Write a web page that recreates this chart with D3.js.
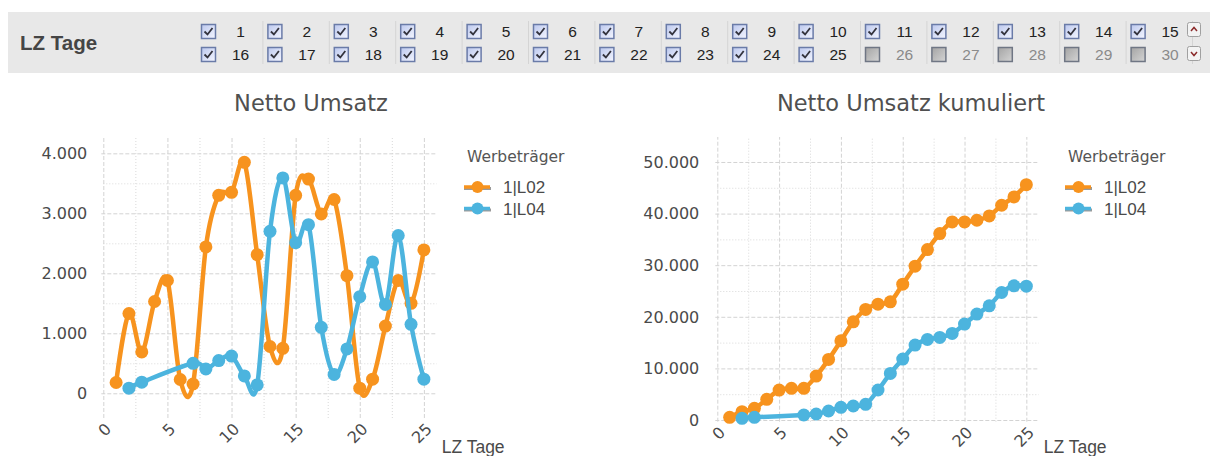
<!DOCTYPE html>
<html>
<head>
<meta charset="utf-8">
<script src="https://d3js.org/d3.v7.min.js"></script>
<style>
  body { margin: 0; background: #fff; }
  svg text { font-family: "DejaVu Sans", sans-serif; }
</style>
</head>
<body>
<div id="chart"></div>
<script>
// day filter (LZ Tage) - first 25 are checked
var filterDays = d3.range(1, 31);
var checkedDays = 25;

// chart data
var days = [1, 2, 3, 4, 5, 6, 7, 8, 9, 10, 11, 12, 13, 14, 15, 16, 17, 18, 19, 20, 21, 22, 23, 24, 25];
var umsatzL02 = [180, 1330, 690, 1530, 1880, 230, 155, 2440, 3300, 3350, 3850, 2310, 780, 750, 3300, 3570, 2990, 3230, 1960, 85, 235, 1120, 1880, 1500, 2390];
var umsatzL04 = [null, 85, 185, null, null, null, 500, 405, 545, 620, 290, 140, 2700, 3590, 2510, 2810, 1100, 315, 740, 1610, 2190, 1480, 2630, 1150, 235];
var kumL02 = [520, 1610, 2260, 4000, 5800, 6130, 6130, 8520, 11740, 15350, 19030, 21420, 22450, 22900, 26320, 29800, 33030, 36130, 38390, 38390, 38710, 39550, 41610, 43230, 45610];
var kumL04 = [null, 320, 520, null, null, null, 970, 1160, 1740, 2450, 2710, 3030, 5810, 9030, 11810, 14520, 15610, 16000, 16770, 18580, 20520, 22130, 24710, 26000, 25940];

var seriesNames = ['1|L02', '1|L04'];
var colors = ['#f7931e', '#4cb4de'];

var xTicks = [0, 5, 10, 15, 20, 25];
var xMinor = [2.5, 7.5, 12.5, 17.5, 22.5];
var yTicksLeft = [0, 1000, 2000, 3000, 4000];
var yMinorLeft = [500, 1500, 2500, 3500];
var yTicksRight = [0, 10000, 20000, 30000, 40000, 50000];
var yMinorRight = [5000, 15000, 25000, 35000, 45000];

var de = d3.formatLocale({decimal: ',', thousands: '.', grouping: [3], currency: ['', '€']});
var fmt = de.format(',.0f');

var svg = d3.select('#chart').append('svg')
  .attr('width', 1210)
  .attr('height', 456);

// ---- filter bar on top ----
svg.append('rect')
  .attr('x', 8).attr('y', 12)
  .attr('width', 1202).attr('height', 61)
  .style('fill', '#e8e8e8');

svg.append('text')
  .attr('x', 20).attr('y', 50)
  .style('font-family', '"Liberation Sans", Arial, sans-serif')
  .style('font-weight', 'bold')
  .style('font-size', '20.5px')
  .style('fill', '#454545')
  .text('LZ Tage');

var grad = svg.append('defs');
var g1 = grad.append('linearGradient').attr('id', 'chk').attr('x1', 0).attr('y1', 0).attr('x2', 1).attr('y2', 1);
g1.append('stop').attr('offset', '0%').attr('stop-color', '#bcc8ee');
g1.append('stop').attr('offset', '100%').attr('stop-color', '#f4f6ff');
var g2 = grad.append('linearGradient').attr('id', 'unchk').attr('x1', 0).attr('y1', 0).attr('x2', 1).attr('y2', 1);
g2.append('stop').attr('offset', '0%').attr('stop-color', '#a4a4a4');
g2.append('stop').attr('offset', '100%').attr('stop-color', '#d4d4d4');

var boxes = svg.selectAll('g.box')
  .data(filterDays)
  .enter().append('g')
  .attr('class', 'box')
  .attr('transform', function(d, i) {
    var col = i % 15, row = Math.floor(i / 15);
    return 'translate(' + (201 + col * 66.4) + ',' + (24 + row * 23) + ')';
  });

boxes.append('rect')
  .attr('x', 0.5).attr('y', 0.5)
  .attr('width', 14).attr('height', 14)
  .style('fill', function(d) { return d <= checkedDays ? 'url(#chk)' : 'url(#unchk)'; })
  .style('stroke', function(d) { return d <= checkedDays ? '#6a7ba8' : '#6f7684'; })
  .style('stroke-width', 1.5);

boxes.filter(function(d) { return d <= checkedDays; })
  .append('path')
  .attr('d', 'M3.5,7.5 L6.5,10.5 L11.5,4')
  .style('fill', 'none')
  .style('stroke', '#33333d')
  .style('stroke-width', 1.8);

boxes.append('text')
  .attr('x', 39.5).attr('y', 12.5)
  .attr('text-anchor', 'middle')
  .style('font-family', '"Liberation Sans", Arial, sans-serif')
  .style('font-size', '15.5px')
  .style('fill', function(d) { return d <= checkedDays ? '#222' : '#8a8a8a'; })
  .text(function(d) { return d; });

// faint separators between the columns
svg.selectAll('line.sep')
  .data(d3.range(1, 16))
  .enter().append('line')
  .attr('x1', function(d) { return 196.5 + d * 66.4; })
  .attr('x2', function(d) { return 196.5 + d * 66.4; })
  .attr('y1', 21).attr('y2', 64)
  .style('stroke', '#d4d4d4');

// scroll buttons
var scroll = svg.selectAll('g.scroll')
  .data(['up', 'down'])
  .enter().append('g')
  .attr('transform', function(d, i) { return 'translate(1187,' + (22 + i * 24) + ')'; });
scroll.append('rect')
  .attr('x', 0.5).attr('y', 0.5)
  .attr('width', 13).attr('height', 14)
  .attr('rx', 2)
  .style('fill', '#f3f3f3')
  .style('stroke', '#a0a0a0');
scroll.append('path')
  .attr('d', function(d) { return d == 'up' ? 'M4,9 L7,5.5 L10,9' : 'M4,6 L7,9.5 L10,6'; })
  .style('fill', 'none')
  .style('stroke', '#8b2a2a')
  .style('stroke-width', 1.5);

// ---- the two line charts ----
function drawChart(opt) {
  var x = d3.scaleLinear().domain([0, 26]).range([opt.left, opt.right]);
  var y = d3.scaleLinear().domain(opt.yDomain).range([opt.bottom, opt.top]);
  var w = opt.right - opt.left, h = opt.bottom - opt.top;

  var g = svg.append('g');

  // minor grid (dotted)
  g.append('g')
    .attr('transform', 'translate(0,' + opt.bottom + ')')
    .call(d3.axisBottom(x).tickValues(xMinor).tickSize(-h).tickFormat(''))
    .call(function(s) { s.select('.domain').remove(); })
    .selectAll('line').style('stroke', '#d9d9d9').style('stroke-dasharray', '1,2');
  g.append('g')
    .attr('transform', 'translate(' + opt.left + ',0)')
    .call(d3.axisLeft(y).tickValues(opt.yMinor).tickSize(-w).tickFormat(''))
    .call(function(s) { s.select('.domain').remove(); })
    .selectAll('line').style('stroke', '#d9d9d9').style('stroke-dasharray', '1,2');

  // major grid (dashed)
  g.append('g')
    .attr('transform', 'translate(0,' + opt.bottom + ')')
    .call(d3.axisBottom(x).tickValues(xTicks).tickSize(-h).tickFormat(''))
    .call(function(s) { s.select('.domain').remove(); })
    .selectAll('line').style('stroke', '#d3d3d3').style('stroke-dasharray', '4,2');
  g.append('g')
    .attr('transform', 'translate(' + (opt.left - 2) + ',0)')
    .call(d3.axisLeft(y).tickValues(opt.yTicks).tickSize(-w - 2).tickFormat(''))
    .call(function(s) { s.select('.domain').remove(); })
    .selectAll('line').style('stroke', '#d3d3d3').style('stroke-dasharray', '4,2');

  // y labels
  g.selectAll('text.ylab')
    .data(opt.yTicks)
    .enter().append('text')
    .attr('x', opt.left - opt.labelGap)
    .attr('y', function(d) { return y(d); })
    .attr('dy', '0.36em')
    .attr('text-anchor', 'end')
    .style('font-size', '16px')
    .style('fill', '#4a4a4a')
    .text(function(d) { return fmt(d); });

  // x labels, rotated
  g.selectAll('text.xlab')
    .data(xTicks)
    .enter().append('text')
    .attr('transform', function(d) { return 'translate(' + (x(d) + 5) + ',' + (opt.bottom + 8) + ') rotate(-45)'; })
    .attr('dy', '0.35em')
    .attr('text-anchor', 'end')
    .style('font-size', '16px')
    .style('fill', '#4a4a4a')
    .text(function(d) { return d; });

  g.append('text')
    .attr('x', opt.right + 5).attr('y', 453)
    .style('font-family', '"Liberation Sans", Arial, sans-serif')
    .style('font-size', '17.5px')
    .style('fill', '#4a4a4a')
    .text('LZ Tage');

  // title
  g.append('text')
    .attr('x', opt.titleX).attr('y', 111)
    .attr('text-anchor', 'middle')
    .style('font-size', '22.5px')
    .style('fill', '#505050')
    .text(opt.title);

  var line = d3.line()
    .defined(function(d) { return d[1] != null; })
    .x(function(d) { return x(d[0]); })
    .y(function(d) { return y(d[1]); })
    .curve(d3.curveCardinal.tension(0));

  opt.series.forEach(function(vals, k) {
    var pts = days.map(function(d, i) { return [d, vals[i]]; })
      .filter(function(p) { return p[1] != null; });
    g.append('path')
      .datum(pts)
      .attr('d', line)
      .style('fill', 'none')
      .style('stroke', colors[k])
      .style('stroke-width', 4.5)
      .style('stroke-linejoin', 'round');
    g.selectAll('circle.s' + k)
      .data(pts)
      .enter().append('circle')
      .attr('cx', function(d) { return x(d[0]); })
      .attr('cy', function(d) { return y(d[1]); })
      .attr('r', 6.5)
      .style('fill', colors[k]);
  });

  // legend
  var lg = g.append('g').attr('transform', 'translate(' + opt.legendX + ',0)');
  lg.append('text')
    .attr('x', 3).attr('y', 162)
    .style('font-size', '15.5px')
    .style('fill', '#555')
    .text('Werbeträger');
  var item = lg.selectAll('g.item')
    .data(seriesNames)
    .enter().append('g')
    .attr('transform', function(d, i) { return 'translate(0,' + (187 + i * 21.5) + ')'; });
  item.append('line')
    .attr('x1', 0).attr('x2', 27).attr('y1', 1.5).attr('y2', 1.5)
    .style('stroke', '#9a9a9a').style('stroke-width', 3);
  item.append('line')
    .attr('x1', 0).attr('x2', 26).attr('y1', 0).attr('y2', 0)
    .style('stroke', function(d, i) { return colors[i]; }).style('stroke-width', 3.5);
  item.append('circle')
    .attr('cx', 13.5).attr('cy', 0).attr('r', 6)
    .style('fill', function(d, i) { return colors[i]; });
  item.append('text')
    .attr('x', 39).attr('y', 6)
    .style('font-family', '"Liberation Sans", Arial, sans-serif')
    .style('font-size', '17px')
    .style('fill', '#4a4a4a')
    .text(function(d) { return d; });
}

drawChart({
  left: 103.3, right: 436.7, top: 137, bottom: 418,
  yDomain: [-412, 4272], yTicks: yTicksLeft, yMinor: yMinorLeft,
  labelGap: 16, title: 'Netto Umsatz', titleX: 311, legendX: 464,
  series: [umsatzL02, umsatzL04]
});

drawChart({
  left: 717.3, right: 1038.7, top: 137, bottom: 421.7,
  yDomain: [-329, 54840], yTicks: yTicksRight, yMinor: yMinorRight,
  labelGap: 18, title: 'Netto Umsatz kumuliert', titleX: 911, legendX: 1065,
  series: [kumL02, kumL04]
});
</script>
</body>
</html>
